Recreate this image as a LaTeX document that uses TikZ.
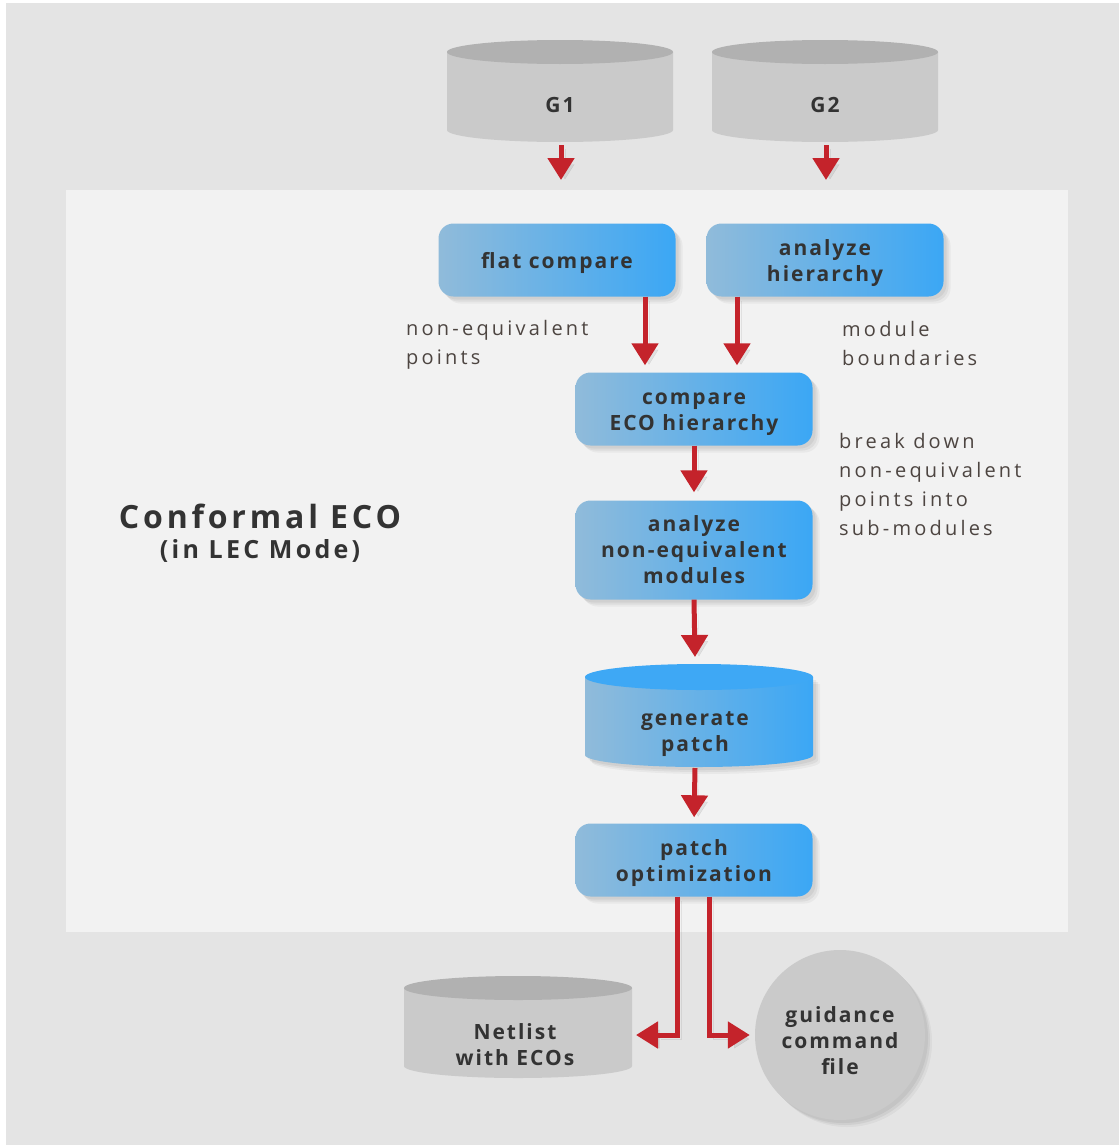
\documentclass[tikz,border=0pt]{standalone}
\usepackage{fontspec}
\setmainfont{Open Sans}
\newfontfamily\nfont[LetterSpace=9.5]{Open Sans}
\newfontfamily\lfont[LetterSpace=16]{Open Sans}
\newfontfamily\tfont[LetterSpace=12]{Open Sans}
\newfontfamily\sfont[LetterSpace=13]{Open Sans}
\usetikzlibrary{arrows.meta,shadows}
\definecolor{bgout}{HTML}{E4E4E4}
\definecolor{panel}{HTML}{F2F2F2}
\definecolor{cylbody}{HTML}{CACACA}
\definecolor{cyltop}{HTML}{B1B1B1}
\definecolor{redarr}{HTML}{C4232B}
\definecolor{txt}{HTML}{333333}
\definecolor{lbl}{HTML}{4D4541}
\definecolor{boxL}{HTML}{90BBDA}
\definecolor{boxR}{HTML}{3BA7F5}
\definecolor{blutop}{HTML}{3EA8F5}
\begin{document}
\begin{tikzpicture}[x=1pt,y=1pt,
  softshadow/.style={
    general shadow={fill=black,opacity=0.05,shadow xshift=3pt,shadow yshift=-3pt},
    general shadow={fill=black,opacity=0.05,shadow xshift=5pt,shadow yshift=-5pt},
    general shadow={fill=black,opacity=0.04,shadow xshift=7pt,shadow yshift=-7pt}},
  box/.style={rounded corners=15pt, minimum width=237pt, minimum height=73pt,
    left color=boxL, right color=boxR, softshadow, align=center, text=txt,
    inner sep=0pt, font={\nfont\bfseries\fontsize{21pt}{26pt}\selectfont}},
  oneline/.style={execute at begin node={\rule{0pt}{22pt}}},
  twoline/.style={execute at begin node={\rule{0pt}{48pt}}},
  ctext/.style={align=center, text=txt, inner sep=0pt,
    font={\nfont\bfseries\fontsize{21pt}{26pt}\selectfont}},
  note/.style={align=left, text=lbl, inner sep=0pt, anchor=north west,
    font={\lfont\fontsize{20pt}{29pt}\selectfont}},
  arr/.style={draw=redarr, line width=5pt, -{Triangle[width=26pt,length=22pt]},
    preaction={draw=black, opacity=0.07, transform canvas={shift={(4pt,-4pt)}}}},
]
\useasboundingbox (0,0) rectangle (1119,-1146);
\fill[white] (0,0) rectangle (1119,-1146);
\fill[bgout] (6,-3) rectangle (1119,-1145);
\fill[panel] (66,-190) rectangle (1068,-932);

% G1 cylinder
\fill[cylbody] (447,-52) -- (447,-130) arc(180:360:113pt and 12pt) -- (673,-52) -- cycle;
\fill[cyltop] (560,-52) ellipse (113pt and 12pt);
\node[ctext] (g1) at (560,-105) {G1};
\coordinate (g1b) at (561,-145);
\coordinate (g1e) at (561,-180);
% G2 cylinder
\fill[cylbody] (712,-52) -- (712,-130) arc(180:360:113pt and 12pt) -- (938,-52) -- cycle;
\fill[cyltop] (825,-52) ellipse (113pt and 12pt);
\node[ctext] (g2) at (825,-105) {G2};
\coordinate (g2b) at (826,-145);
\coordinate (g2e) at (826,-180);

\draw[arr] (g1b) -- (g1e);
\draw[arr] (g2b) -- (g2e);

% boxes
\node[box, oneline] (fc) at (557,-260) {flat compare};
\node[box, twoline] (ah) at (825,-260) {analyze\\hierarchy};
\node[box, twoline] (eco) at (694,-409) {compare\\ECO hierarchy};
\node[box, minimum height=99pt] (anm) at (694,-550) {analyze\\non-equivalent\\modules};

% generate patch cylinder
\path[softshadow, left color=boxL, right color=boxR] (585,-677) -- (585,-755) arc(180:360:114pt and 12pt) -- (813,-677) -- cycle;
\fill[blutop] (699,-677) ellipse (114pt and 13pt);
\node[ctext] (gp) at (695,-734) {generate\\patch};
\coordinate (gpt) at (695,-657);
\coordinate (gpb) at (695,-768);

\node[box, twoline] (po) at (694,-860) {patch\\optimization};

% netlist cylinder
\fill[cylbody] (404,-988) -- (404,-1066) arc(180:360:114pt and 12pt) -- (632,-988) -- cycle;
\fill[cyltop] (518,-988) ellipse (114pt and 12pt);
\node[ctext] (nl) at (515,-1045) {Netlist\\with ECOs};
\coordinate (nlr) at (636,-1035);

% guidance circle
\node[circle, fill=cylbody, minimum size=170pt, softshadow] (gc) at (840,-1035) {};
\node[ctext] (gct) at (840,-1041) {guidance\\command\\file};

% arrows
\draw[arr, shorten >=7pt] ([xshift=88pt]fc.south) -- ([xshift=-49pt]eco.north);
\draw[arr, shorten >=7pt] ([xshift=-88pt]ah.south) -- ([xshift=43pt]eco.north);
\draw[arr, shorten >=8pt] (eco.south) -- (anm.north);
\draw[arr] (anm.south) -- (gpt);
\draw[arr, shorten >=6pt] (gpb) -- (po.north);
\draw[arr] ([xshift=-17pt]po.south) |- (nlr);
\draw[arr, shorten >=5pt] ([xshift=15pt]po.south) |- (gc.west);

% labels
\node[note] (l1) at (406,-320) {non-equivalent\\points};
\node[note] (l2) at (842,-321) {module\\boundaries};
\node[note] (l3) at (839,-433) {break down\\non-equivalent\\points into\\sub-modules};

\node[text=txt, inner sep=0pt, font={\tfont\bfseries\fontsize{32pt}{38pt}\selectfont}] (t1) at (260,-516) {Conformal ECO};
\node[text=txt, inner sep=0pt, font={\sfont\bfseries\fontsize{25pt}{30pt}\selectfont}] (t2) at (260,-551) {(in LEC Mode)};
\end{tikzpicture}
\end{document}
